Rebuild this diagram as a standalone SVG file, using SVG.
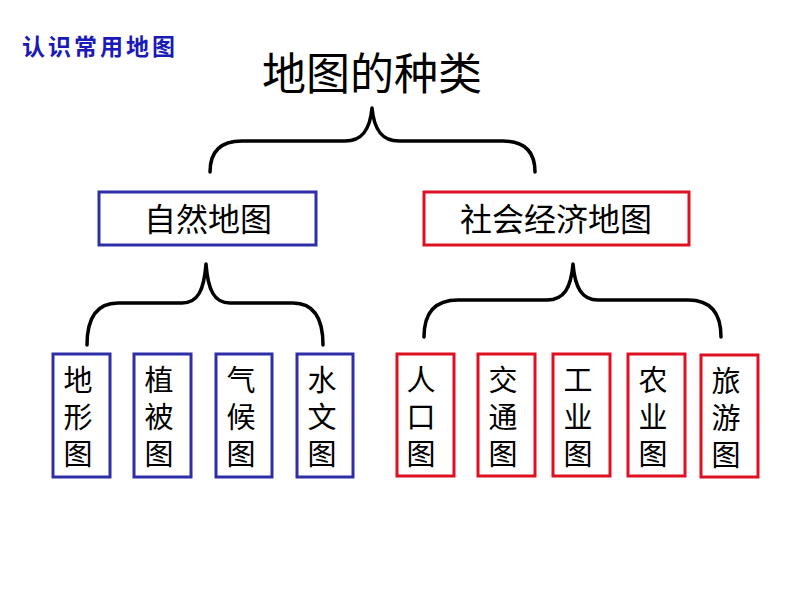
<svg xmlns="http://www.w3.org/2000/svg" width="794" height="596" viewBox="0 0 794 596">
<style>
.t{font-family:"Liberation Sans","Noto Sans CJK SC",sans-serif;fill:#000;text-anchor:middle;dominant-baseline:central}
.blue{fill:#fff;stroke:#2e2ea8;stroke-width:3}
.red{fill:#fff;stroke:#dd1122;stroke-width:3}
.brace{fill:none;stroke:#000;stroke-width:3.5;stroke-linecap:round;stroke-linejoin:round}
.v{font-size:29px}
.m{font-size:32px}
</style>
<rect width="794" height="596" fill="#fff"/>
<text x="100" y="47" class="t" style="font-size:23px;font-weight:bold;fill:#1a1ab8;letter-spacing:3px">认识常用地图</text>
<text x="372" y="74" class="t" style="font-size:44px">地图的种类</text>
<g id="connectors">
<path class="brace" d="M210,172 C210,152 220,141 242,141 L345,141 C362,141 370,130 372,108 C374,130 382,141 399,141 L503,141 C525,141 535,152 535,172"/>
<path class="brace" d="M87,345 C87,318 97,303 118,303 L182,303 C198,303 204,290 206,264 C208,290 214,303 230,303 L293,303 C314,303 323,318 323,345"/>
<path class="brace" d="M424,337 C424,312 436,300 458,300 L547,300 C564,300 571,288 573,264 C575,288 582,300 598,300 L688,300 C710,300 721,312 721,337"/>
</g>
<g id="natural"><rect class="blue" x="99" y="192" width="217" height="53"/><text x="208" y="220" class="t m">自然地图</text></g>
<g id="social"><rect class="red" x="424" y="192" width="265" height="53"/><text x="556" y="220" class="t m">社会经济地图</text></g>
<g id="n1"><rect class="blue" x="53" y="354" width="57" height="123"/><text x="78" y="381" class="t v">地</text><text x="78" y="418" class="t v">形</text><text x="78" y="455" class="t v">图</text></g>
<g id="n2"><rect class="blue" x="134" y="354" width="57" height="123"/><text x="159" y="381" class="t v">植</text><text x="159" y="418" class="t v">被</text><text x="159" y="455" class="t v">图</text></g>
<g id="n3"><rect class="blue" x="216" y="354" width="56" height="123"/><text x="241" y="381" class="t v">气</text><text x="241" y="418" class="t v">候</text><text x="241" y="455" class="t v">图</text></g>
<g id="n4"><rect class="blue" x="297" y="354" width="56" height="123"/><text x="322" y="381" class="t v">水</text><text x="322" y="418" class="t v">文</text><text x="322" y="455" class="t v">图</text></g>
<g id="s1"><rect class="red" x="397" y="354" width="57" height="122"/><text x="421" y="381" class="t v">人</text><text x="421" y="418" class="t v">口</text><text x="421" y="455" class="t v">图</text></g>
<g id="s2"><rect class="red" x="478" y="354" width="57" height="122"/><text x="503" y="381" class="t v">交</text><text x="503" y="418" class="t v">通</text><text x="503" y="455" class="t v">图</text></g>
<g id="s3"><rect class="red" x="553" y="354" width="57" height="122"/><text x="578" y="381" class="t v">工</text><text x="578" y="418" class="t v">业</text><text x="578" y="455" class="t v">图</text></g>
<g id="s4"><rect class="red" x="628" y="354" width="57" height="122"/><text x="653" y="381" class="t v">农</text><text x="653" y="418" class="t v">业</text><text x="653" y="455" class="t v">图</text></g>
<g id="s5"><rect class="red" x="701" y="355" width="57" height="122"/><text x="726" y="382" class="t v">旅</text><text x="726" y="419" class="t v">游</text><text x="726" y="456" class="t v">图</text></g>
</svg>
